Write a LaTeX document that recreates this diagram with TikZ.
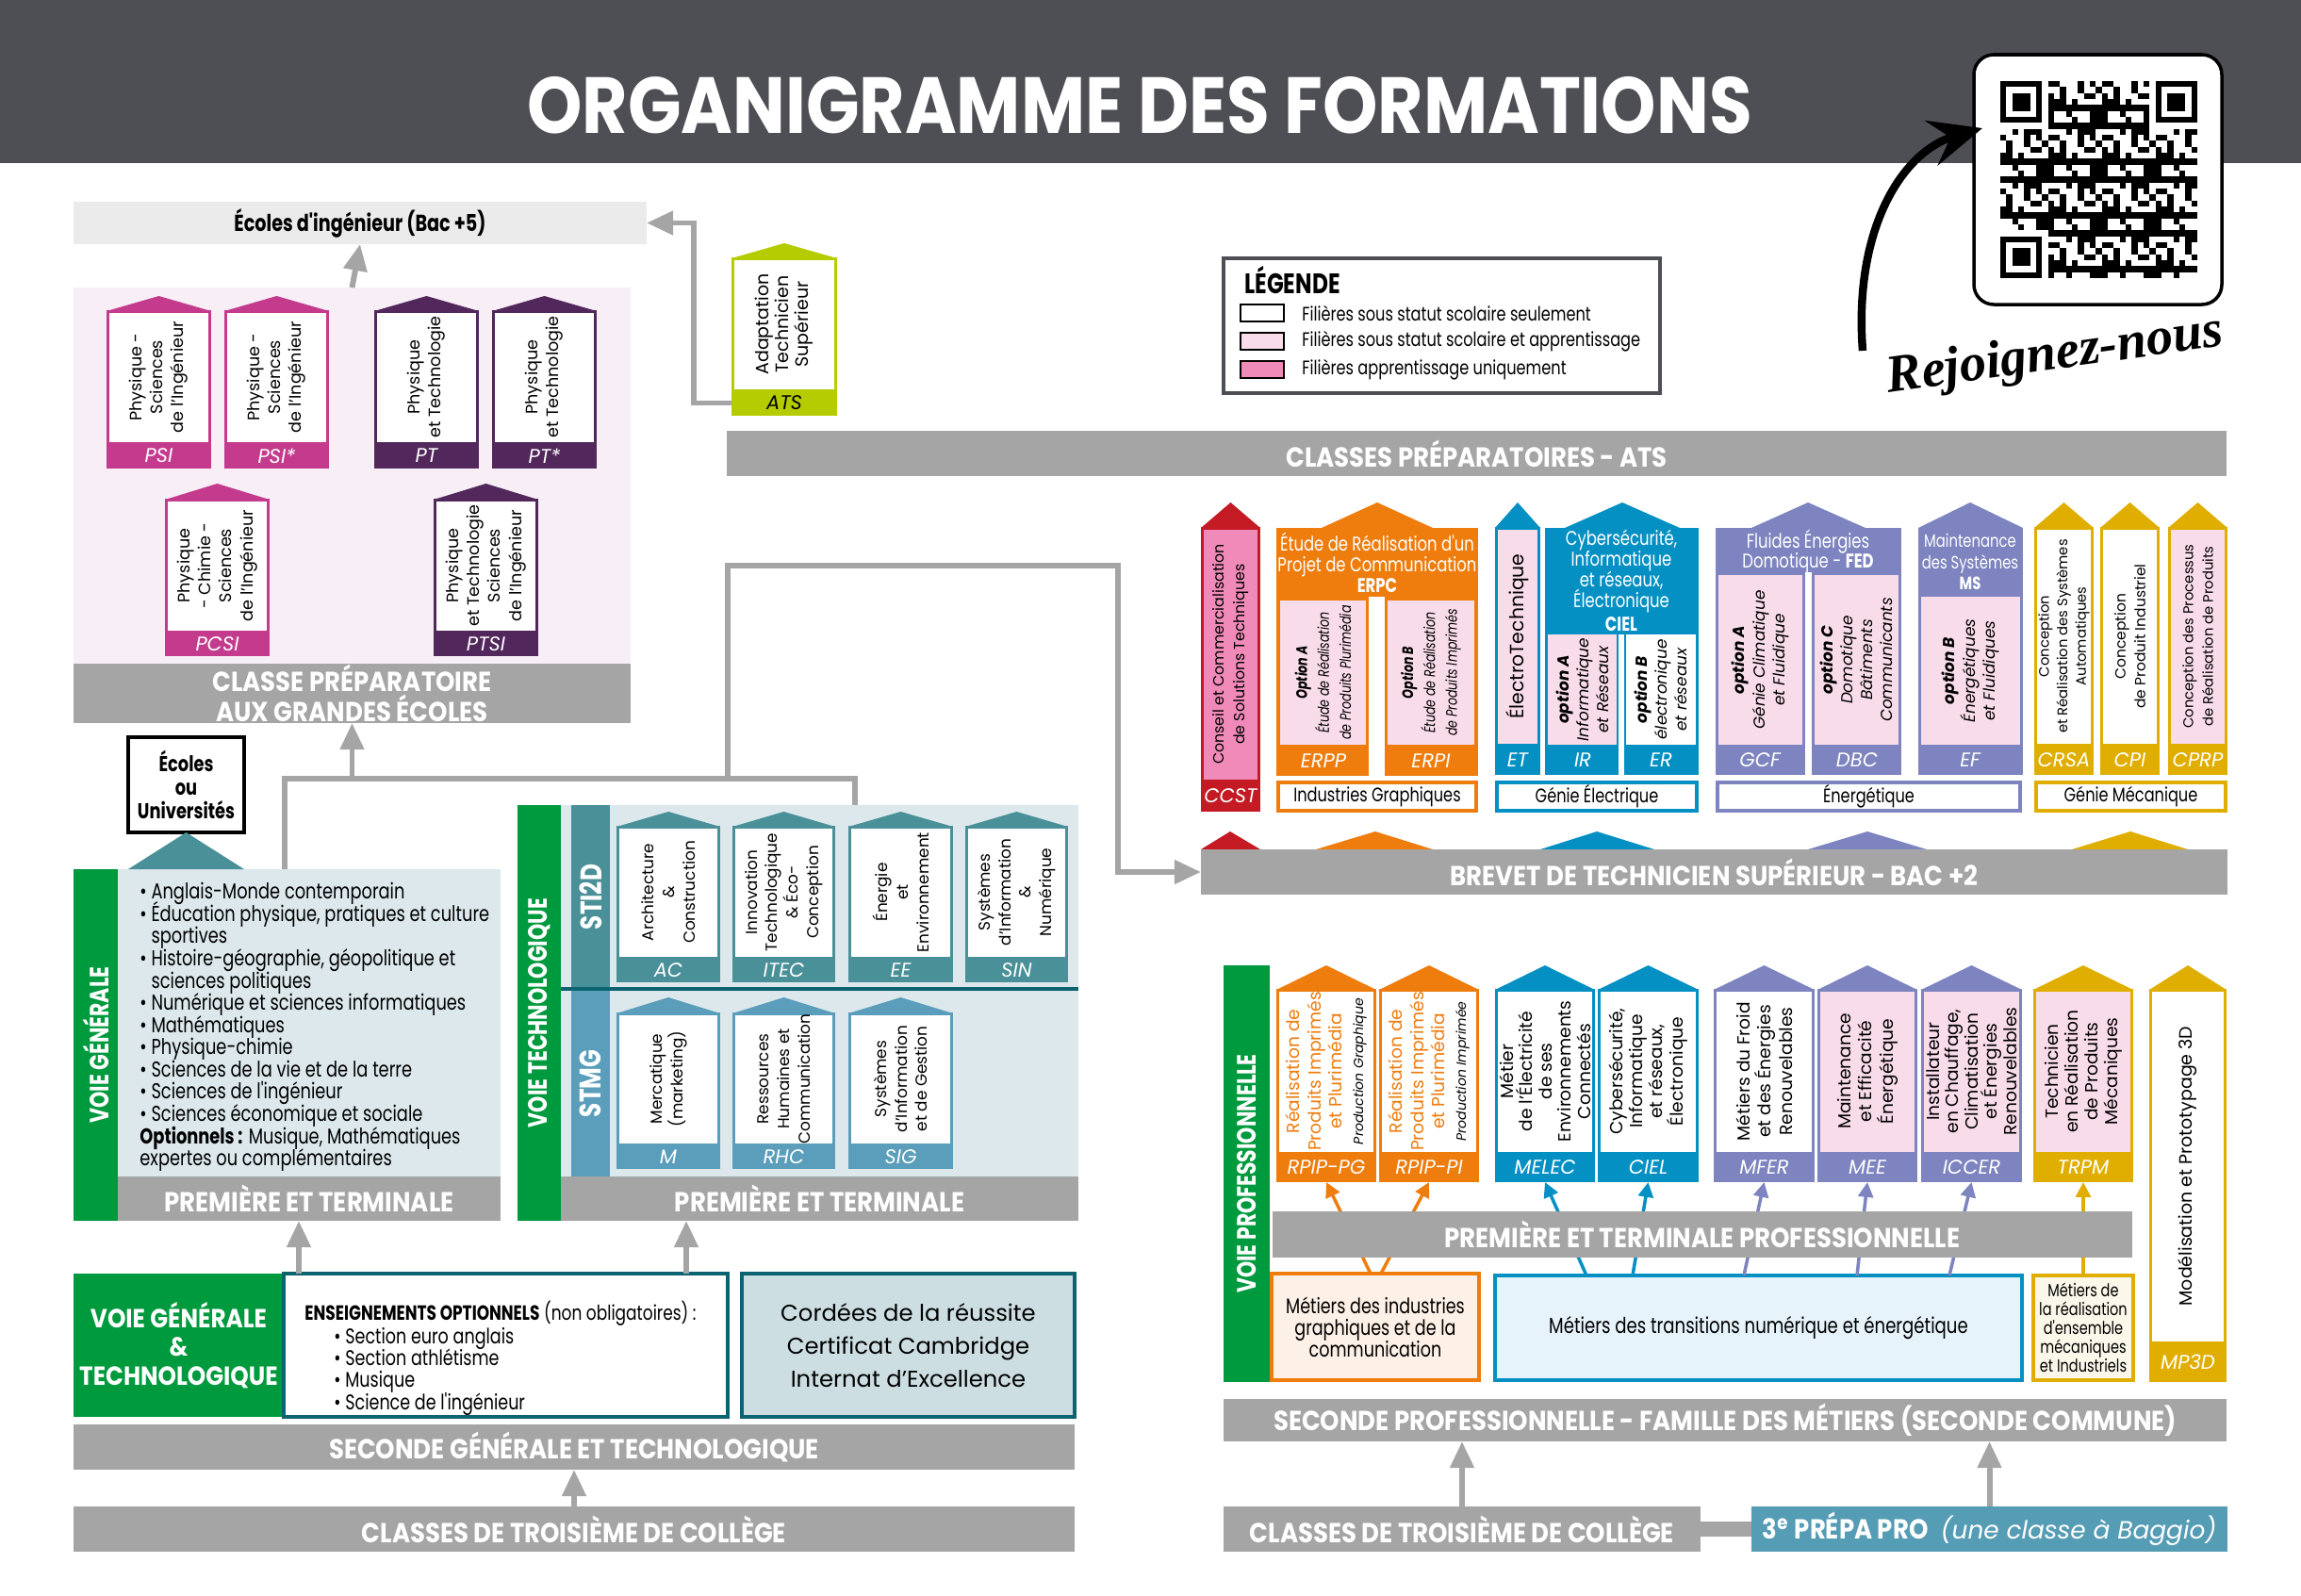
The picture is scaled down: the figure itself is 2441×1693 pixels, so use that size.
\documentclass[tikz,border=0pt]{standalone}
\usepackage{fontspec}
\setmainfont{Poppins}
\newfontfamily\cnd{Poppins}[FakeStretch=0.78]
\newfontfamily\bcnd{Poppins}[FakeStretch=0.89]
\newfontfamily\ttl{Poppins}[FakeStretch=0.88]
\newfontfamily\hand{Liberation Serif}
\usetikzlibrary{arrows.meta,calc,positioning}

\definecolor{hdr}{HTML}{4D4F54}
\definecolor{bargray}{HTML}{A5A5A5}
\definecolor{lightgray}{HTML}{EBEBEB}
\definecolor{cpgebg}{HTML}{F8EEF6}
\definecolor{psic}{HTML}{C43B8E}
\definecolor{ptc}{HTML}{52285C}
\definecolor{atsc}{HTML}{B5CC00}
\definecolor{redc}{HTML}{C41A24}
\definecolor{pinkc}{HTML}{F08AB8}
\definecolor{lpink}{HTML}{F9DCEA}
\definecolor{orc}{HTML}{EE7D0E}
\definecolor{bluec}{HTML}{0590C4}
\definecolor{purc}{HTML}{7D84BF}
\definecolor{yelc}{HTML}{E0AE00}
\definecolor{greenc}{HTML}{009A3E}
\definecolor{tealc}{HTML}{4A9098}
\definecolor{stmgc}{HTML}{5A9EBB}
\definecolor{techbg}{HTML}{DCE8EC}
\definecolor{cordbg}{HTML}{CDDEE3}
\definecolor{darkteal}{HTML}{0B6470}
\definecolor{prepac}{HTML}{559CB5}
\definecolor{lblue}{HTML}{E6F3FB}
\definecolor{peach}{HTML}{FDF0E6}
\definecolor{cream}{HTML}{FBF8EA}

\tikzset{
  zone/.style n args={4}{inner sep=0pt, outer sep=0pt,
    minimum width={((#3)-(#1))*0.01cm}, minimum height={((#4)-(#2))*0.01cm},
    at={({((#1)+(#3))/2},{((#2)+(#4))/2})}},
  barre/.style={fill=bargray, text=white, align=center,
    font=\bcnd\bfseries\fontsize{8.3}{9}\selectfont},
  voie/.style={rotate=90, text=white, font=\cnd\bfseries\fontsize{8}{8}\selectfont},
  lab/.style={rotate=90, align=center, font=\fontsize{5}{6.3}\selectfont},
  opt/.style={rotate=90, align=center, font=\itshape\fontsize{4.8}{6}\selectfont},
  sigle/.style={text=white, font=\itshape\fontsize{6}{7}\selectfont},
  entete/.style={text=white, align=center, font=\cnd\fontsize{6}{6.2}\selectfont},
  famille/.style={fill=white, line width=1.1pt, font=\cnd\fontsize{5.9}{7}\selectfont},
  leg/.style={anchor=west, font=\cnd\fontsize{5.9}{7}\selectfont},
  gline/.style={draw=bargray, line width=1.7pt},
  garrow/.style={gline, -{Triangle[length=8pt,width=7pt]}},
  parrow/.style={line width=1pt, -{Triangle[length=4.5pt,width=4.5pt]}},
}

\newcommand{\filiere}[9]{%
  \fill[#8] (#2,#5) -- ({((#2)+(#3))/2},#4) -- (#3,#5) -- cycle;
  \node[zone={#2+1.5}{#5}{#3-1.5}{#6}, draw=#8, fill=#9, line width=0.85pt] (#1) {};
  \node[zone={#2}{#6}{#3}{#7}, fill=#8] (#1b) {};
}

\begin{document}
\lineskiplimit=-\maxdimen
\begin{tikzpicture}[x=0.01cm, y=-0.01cm]
\useasboundingbox (0,0) rectangle (2441,1693);

\node[zone={0}{0}{2441}{173}, fill=hdr] (bandeau) {};
\node[text=white, font=\ttl\bfseries\fontsize{24}{26}\selectfont] (titre) at (1209,112) {ORGANIGRAMME DES FORMATIONS};

\node[zone={2094}{58}{2357}{323}, draw=black, line width=1pt, fill=white, rounded corners=6pt] (qr) {};
\foreach \i in {0,...,32}{
  \foreach \j in {0,...,32}{
    \pgfmathtruncatemacro\qf{or(or(and(\i<8,\j<8),and(\i>24,\j<8)),and(\i<8,\j>24))}
    \pgfmathtruncatemacro\qon{mod(\i*\i*3+\j*\j*5+\i*\j+2*\i+\j,9)<4}
    \ifnum\qf=0 \ifnum\qon=1
      \fill (2122+\i*6.33,86+\j*6.33) rectangle ++(6.45,6.45);
    \fi\fi
  }
}
\foreach \fx/\fy in {2122/86, 2286.6/86, 2122/250.6}{
  \fill (\fx,\fy) rectangle ++(44.3,44.3);
  \fill[white] (\fx+6.33,\fy+6.33) rectangle ++(31.65,31.65);
  \fill (\fx+12.66,\fy+12.66) rectangle ++(19,19);
}
\coordinate (flstart) at (1976,372);
\coordinate (fltip) at (2103,136);
\draw[line width=2.4pt, -{Stealth[length=16pt,width=14pt,inset=6pt]}] (flstart) .. controls (1966,240) and (2020,160) .. (fltip);
\node[rotate=8, font=\hand\bfseries\itshape\fontsize{16}{20}\selectfont] (rejoin) at (2180,378) {Rejoignez-nous};

\node[zone={1298}{274}{1761}{417}, draw=hdr, line width=0.9pt, fill=white] (legende) {};
\node[anchor=west, font=\cnd\bfseries\fontsize{8.5}{9}\selectfont] (legt) at (1308,297) {LÉGENDE};
\node[zone={1316}{323}{1362}{341}, draw=black, line width=0.4pt, fill=white] (lg1) {};
\node[zone={1316}{353}{1362}{371}, draw=black, line width=0.4pt, fill=lpink] (lg2) {};
\node[zone={1316}{383}{1362}{401}, draw=black, line width=0.4pt, fill=pinkc] (lg3) {};
\node[leg, right=2pt of lg1] (lt1) {Filières sous statut scolaire seulement};
\node[leg, right=2pt of lg2] (lt2) {Filières sous statut scolaire et apprentissage};
\node[leg, right=2pt of lg3] (lt3) {Filières apprentissage uniquement};

\node[zone={78}{214}{686}{259}, fill=lightgray, font=\cnd\bfseries\fontsize{7}{8}\selectfont] (ecoles) {Écoles d'ingénieur (Bac +5)};
\node[zone={78}{305}{669}{704}, fill=cpgebg] (cpgezone) {};
\node[barre, zone={78}{704}{669}{767}] (cpge) {CLASSE PRÉPARATOIRE\\AUX GRANDES ÉCOLES};
\draw[garrow] (cpgezone.north) -- (ecoles.south);

\filiere{psi}{113}{224}{314}{330}{470}{497}{psic}{white}
\node[lab] (psit) at (psi) {Physique -\\Sciences\\de l'Ingénieur};
\node[sigle] (psil) at (psib) {PSI};
\filiere{psis}{238}{349}{314}{330}{470}{497}{psic}{white}
\node[lab] (psist) at (psis) {Physique -\\Sciences\\de l'Ingénieur};
\node[sigle] (psisl) at (psisb) {PSI*};
\filiere{pt}{397}{508}{314}{330}{470}{497}{ptc}{white}
\node[lab] (ptt) at (pt) {Physique\\et Technologie};
\node[sigle] (ptl) at (ptb) {PT};
\filiere{pts}{522}{633}{314}{330}{470}{497}{ptc}{white}
\node[lab] (ptst) at (pts) {Physique\\et Technologie};
\node[sigle] (ptsl) at (ptsb) {PT*};
\filiere{pcsi}{175}{286}{513}{530}{670}{696}{psic}{white}
\node[lab] (pcsit) at (pcsi) {Physique\\- Chimie -\\Sciences\\de l'Ingénieur};
\node[sigle] (pcsil) at (pcsib) {PCSI};
\filiere{ptsi}{460}{571}{513}{530}{670}{696}{ptc}{white}
\node[lab] (ptsit) at (ptsi) {Physique\\et Technologie\\Sciences\\de l'Ingénieur};
\node[sigle] (ptsil) at (ptsib) {PTSI};

\filiere{ats}{776}{888}{258}{274}{414}{441}{atsc}{white}
\node[lab, font=\fontsize{5.4}{6}\selectfont] (atst) at (ats) {Adaptation\\Technicien\\Supérieur};
\node[sigle, text=black] (atsl) at (atsb) {ATS};
\draw[garrow] (atsb.west) -- ++(-40,0) |- (ecoles.east);

\node[barre, zone={771}{457}{2362}{505}] (cpats) {CLASSES PRÉPARATOIRES - ATS};

\filiere{ccst}{1274}{1337}{533}{560}{828}{861}{redc}{pinkc}
\node[lab, font=\fontsize{4.5}{6.2}\selectfont] (ccstt) at (ccst) {Conseil et Commercialisation\\de Solutions Techniques};
\node[sigle] (ccstl) at (ccstb) {CCST};

\fill[orc] (1402,560) -- (1461,533) -- (1520,560) -- cycle;
\node[zone={1354}{560}{1568}{823}, fill=orc] (erpc) {};
\fill[white] (1452,633) rectangle (1469,823);
\node[zone={1358}{637}{1449}{790}, fill=lpink] (erpp) {};
\node[zone={1472}{637}{1564}{790}, fill=lpink] (erpi) {};
\node[entete] (erpct) at (1461,597) {Étude de Réalisation d'un\\Projet de Communication\\\textbf{ERPC}};
\node[opt, font=\cnd\itshape\fontsize{4.6}{6.6}\selectfont] (erppt) at (erpp) {\textbf{Option A}\\Étude de Réalisation\\de Produits Plurimédia};
\node[opt, font=\cnd\itshape\fontsize{4.6}{6.6}\selectfont] (erpit) at (erpi) {\textbf{Option B}\\Étude de Réalisation\\de Produits Imprimés};
\node[sigle] (erppl) at (1404,807) {ERPP};
\node[sigle] (erpil) at (1518,807) {ERPI};
\node[famille, draw=orc, zone={1356}{830}{1566}{860}] (indg) {Industries Graphiques};

\filiere{et}{1586}{1634}{533}{560}{790}{822}{bluec}{lpink}
\node[lab, font=\fontsize{5.8}{6}\selectfont] (ett) at (et) {ÉlectroTechnique};
\node[sigle] (etl) at (etb) {ET};

\fill[bluec] (1660,560) -- (1721,533) -- (1782,560) -- cycle;
\node[zone={1639}{560}{1802}{822}, fill=bluec] (cielg) {};
\fill[white] (1717,673) rectangle (1723,822);
\node[zone={1642}{673}{1715}{790}, fill=lpink] (ir) {};
\node[zone={1725}{673}{1799}{790}, fill=white] (er) {};
\node[entete] (cielt) at (1720,616) {Cybersécurité,\\Informatique\\et réseaux,\\Électronique\\[1pt]\textbf{CIEL}};
\node[opt] (irt) at (ir) {\textbf{option A}\\Informatique\\et Réseaux};
\node[opt] (ert) at (er) {\textbf{option B}\\électronique\\et réseaux};
\node[sigle] (irl) at (1679,806) {IR};
\node[sigle] (erl) at (1762,806) {ER};
\node[famille, draw=bluec, zone={1588}{830}{1800}{860}] (genel) {Génie Électrique};

\fill[purc] (1858,560) -- (1918,533) -- (1979,560) -- cycle;
\node[zone={1820}{560}{2017}{822}, fill=purc] (fed) {};
\fill[white] (1915,607) rectangle (1922,822);
\node[zone={1823}{610}{1912}{790}, fill=lpink] (gcf) {};
\node[zone={1925}{610}{2014}{790}, fill=lpink] (dbc) {};
\node[entete] (fedt) at (1918,585) {Fluides Énergies\\Domotique - \textbf{FED}};
\node[opt] (gcft) at (gcf) {\textbf{option A}\\Génie Climatique\\et Fluidique};
\node[opt] (dbct) at (dbc) {\textbf{option C}\\Domotique\\Bâtiments\\Communicants};
\node[sigle] (gcfl) at (1867,806) {GCF};
\node[sigle] (dbcl) at (1970,806) {DBC};

\fill[purc] (2035,560) -- (2090,533) -- (2146,560) -- cycle;
\node[zone={2035}{560}{2146}{822}, fill=purc] (ms) {};
\node[zone={2038}{633}{2143}{790}, fill=lpink] (ef) {};
\node[entete, font=\cnd\fontsize{5.4}{6.4}\selectfont] (mst) at (2090,596) {Maintenance\\des Systèmes\\\textbf{MS}};
\node[opt] (eft) at (ef) {\textbf{option B}\\Énergétiques\\et Fluidiques};
\node[sigle] (efl) at (2090,806) {EF};
\node[famille, draw=purc, zone={1822}{830}{2143}{860}] (energ) {Énergétique};

\filiere{crsa}{2158}{2221}{533}{560}{790}{822}{yelc}{white}
\node[lab, font=\fontsize{4.2}{5.6}\selectfont] (crsat) at (crsa) {Conception\\et Réalisation des Systèmes\\Automatiques};
\node[sigle] (crsal) at (crsab) {CRSA};
\filiere{cpi}{2228}{2291}{533}{560}{790}{822}{yelc}{white}
\node[lab, font=\fontsize{4.4}{6}\selectfont] (cpit) at (cpi) {Conception\\de Produit Industriel};
\node[sigle] (cpil) at (cpib) {CPI};
\filiere{cprp}{2300}{2363}{533}{560}{790}{822}{yelc}{lpink}
\node[lab, font=\fontsize{4.2}{6}\selectfont] (cprpt) at (cprp) {Conception des Processus\\de Réalisation de Produits};
\node[sigle] (cprpl) at (cprpb) {CPRP};
\node[famille, draw=yelc, zone={2160}{830}{2361}{860}] (genmec) {Génie Mécanique};

\fill[redc] (1274,901) -- (1305,882) -- (1337,901) -- cycle;
\fill[orc] (1396,901) -- (1459,882) -- (1520,901) -- cycle;
\fill[bluec] (1634,901) -- (1694,882) -- (1755,901) -- cycle;
\fill[purc] (1918,901) -- (1981,882) -- (2044,901) -- cycle;
\fill[yelc] (2198,901) -- (2260,882) -- (2321,901) -- cycle;
\node[barre, zone={1274}{901}{2363}{949}] (bts) {BREVET DE TECHNICIEN SUPÉRIEUR - BAC +2};

\node[zone={136}{782}{259}{883}, draw=black, line width=0.9pt, fill=white, align=center, font=\cnd\bfseries\fontsize{6.5}{7}\selectfont] (univ) {Écoles\\ou\\Universités};
\node[zone={78}{922}{125}{1295}, fill=greenc] (vg) {};
\node[voie] (vgl) at (vg) {VOIE GÉNÉRALE};
\node[zone={125}{922}{531}{1248}, fill=techbg] (vgzone) {};
\fill[tealc] (univ.south west |- vgzone.north) -- (univ.south) -- (univ.south east |- vgzone.north) -- cycle;
\node[anchor=north west, align=left, font=\cnd\fontsize{6.5}{6.7}\selectfont] (listeg) at (136,924) {\textbullet~Anglais-Monde contemporain\\
\textbullet~Éducation physique, pratiques et culture\\
\phantom{\textbullet~}sportives\\
\textbullet~Histoire-géographie, géopolitique et\\
\phantom{\textbullet~}sciences politiques\\
\textbullet~Numérique et sciences informatiques\\
\textbullet~Mathématiques\\
\textbullet~Physique-chimie\\
\textbullet~Sciences de la vie et de la terre\\
\textbullet~Sciences de l'ingénieur\\
\textbullet~Sciences économique et sociale\\
\textbf{Optionnels :} Musique, Mathématiques\\
expertes ou complémentaires};
\node[barre, zone={125}{1248}{531}{1295}] (premg) {PREMIÈRE ET TERMINALE};

\node[zone={549}{854}{595}{1295}, fill=greenc] (vt) {};
\node[voie] (vtl) at (vt) {VOIE TECHNOLOGIQUE};
\node[zone={595}{854}{1144}{1248}, fill=techbg] (vtzone) {};
\node[zone={606}{854}{647}{1049}, fill=tealc] (sti) {};
\node[zone={606}{1051}{647}{1248}, fill=stmgc] (stmg) {};
\node[voie, font=\cnd\bfseries\fontsize{9}{9}\selectfont] (stil) at (sti) {STI2D};
\node[voie, font=\cnd\bfseries\fontsize{9}{9}\selectfont] (stmgl) at (stmg) {STMG};
\draw[darkteal, line width=1pt] (vt.east |- sti.south) -- (vtzone.east |- sti.south);
\node[barre, zone={595}{1248}{1144}{1295}] (premt) {PREMIÈRE ET TERMINALE};

\filiere{ac}{654}{764}{861}{877}{1016}{1042}{tealc}{white}
\node[lab, font=\fontsize{4.8}{6.2}\selectfont] (act) at (ac) {Architecture\\\&\\Construction};
\node[sigle] (acl) at (acb) {AC};
\filiere{itec}{777}{886}{861}{877}{1016}{1042}{tealc}{white}
\node[lab, font=\fontsize{4.8}{6.2}\selectfont] (itect) at (itec) {Innovation\\Technologique\\\& Éco-\\Conception};
\node[sigle] (itecl) at (itecb) {ITEC};
\filiere{ee}{900}{1011}{861}{877}{1016}{1042}{tealc}{white}
\node[lab, font=\fontsize{4.8}{6.2}\selectfont] (eet) at (ee) {Énergie\\et\\Environnement};
\node[sigle] (eel) at (eeb) {EE};
\filiere{sin}{1024}{1133}{861}{877}{1016}{1042}{tealc}{white}
\node[lab, font=\fontsize{4.8}{6.2}\selectfont] (sint) at (sin) {Systèmes\\d'Information\\\&\\Numérique};
\node[sigle] (sinl) at (sinb) {SIN};
\filiere{merc}{654}{764}{1058}{1075}{1214}{1240}{stmgc}{white}
\node[lab, font=\fontsize{4.8}{6.2}\selectfont] (merct) at (merc) {Mercatique\\(marketing)};
\node[sigle] (mercl) at (mercb) {M};
\filiere{rhc}{777}{886}{1058}{1075}{1214}{1240}{stmgc}{white}
\node[lab, font=\fontsize{4.8}{6.2}\selectfont] (rhct) at (rhc) {Ressources\\Humaines et\\Communication};
\node[sigle] (rhcl) at (rhcb) {RHC};
\filiere{sig}{900}{1011}{1058}{1075}{1214}{1240}{stmgc}{white}
\node[lab, font=\fontsize{4.8}{6.2}\selectfont] (sigt) at (sig) {Systèmes\\d'Information\\et de Gestion};
\node[sigle] (sigl) at (sigb) {SIG};

\coordinate (jg) at (302,826);
\coordinate (jt) at (907,826);
\coordinate (jb) at (772,826);
\coordinate (cb1) at (772,600);
\coordinate (cb2) at (1186,600);
\draw[gline] (jg |- vgzone.north) -- (jg) -- (jt) -- (jt |- vtzone.north);
\draw[garrow] (cpge.south |- jg) -- (cpge.south);
\draw[garrow] (jb) -- (cb1) -- (cb2) |- (bts.west);

\node[zone={78}{1351}{301}{1503}, fill=greenc, text=white, align=center, font=\bcnd\bfseries\fontsize{7.9}{8.6}\selectfont] (vgt) {VOIE GÉNÉRALE\\\&\\TECHNOLOGIQUE};
\node[zone={301}{1351}{772}{1503}, draw=darkteal, line width=1pt, fill=white] (ens) {};
\node[anchor=north west, font=\cnd\fontsize{6.2}{6.6}\selectfont] (enst) at (311,1368) {\textbf{ENSEIGNEMENTS OPTIONNELS} (non obligatoires) :};
\node[anchor=north west, align=left, font=\cnd\fontsize{6.4}{6.6}\selectfont] (ensl) at (342,1396) {\textbullet~Section euro anglais\\\textbullet~Section athlétisme\\\textbullet~Musique\\\textbullet~Science de l'ingénieur};
\node[zone={787}{1351}{1140}{1503}, fill=cordbg, draw=darkteal, line width=1pt, align=center, font=\fontsize{6.9}{10}\selectfont] (cordees) {Cordées de la réussite\\Certificat Cambridge\\Internat d'Excellence};
\coordinate (xg) at (317,0);
\coordinate (xt) at (728,0);
\draw[garrow] (ens.north -| xg) -- (premg.south -| xg);
\draw[garrow] (ens.north -| xt) -- (premt.south -| xt);
\node[barre, zone={78}{1511}{1140}{1559}] (secgt) {SECONDE GÉNÉRALE ET TECHNOLOGIQUE};
\node[barre, zone={78}{1598}{1140}{1646}] (troisg) {CLASSES DE TROISIÈME DE COLLÈGE};
\draw[garrow] (troisg.north) -- (secgt.south);

\node[zone={1298}{1024}{1347}{1466}, fill=greenc] (vp) {};
\node[voie] (vpl) at (vp) {VOIE PROFESSIONNELLE};

\filiere{rpg}{1354}{1460}{1024}{1050}{1223}{1254}{orc}{white}
\node[lab, text=orc, font=\fontsize{5.3}{6.4}\selectfont] (rpgt) at (rpg) {Réalisation de\\Produits Imprimés\\et Plurimédia\\\textcolor{black}{\itshape\fontsize{4}{5}\selectfont Production Graphique}};
\node[sigle] (rpgl) at (rpgb) {RPIP-PG};
\filiere{rpi}{1463}{1569}{1024}{1050}{1223}{1254}{orc}{white}
\node[lab, text=orc, font=\fontsize{5.3}{6.4}\selectfont] (rpit) at (rpi) {Réalisation de\\Produits Imprimés\\et Plurimédia\\\textcolor{black}{\itshape\fontsize{4}{5}\selectfont Production Imprimée}};
\node[sigle] (rpil) at (rpib) {RPIP-PI};
\filiere{melec}{1586}{1692}{1024}{1050}{1223}{1254}{bluec}{white}
\node[lab, font=\fontsize{5.3}{5.8}\selectfont] (melect) at (melec) {Métier\\de l'Électricité\\de ses\\Environnements\\Connectés};
\node[sigle] (melecl) at (melecb) {MELEC};
\filiere{cielp}{1695}{1802}{1024}{1050}{1223}{1254}{bluec}{white}
\node[lab, font=\fontsize{5.3}{6}\selectfont] (cielpt) at (cielp) {Cybersécurité,\\Informatique\\et réseaux,\\Électronique};
\node[sigle] (cielpl) at (cielpb) {CIEL};
\filiere{mfer}{1818}{1925}{1024}{1050}{1223}{1254}{purc}{white}
\node[lab, font=\fontsize{5.3}{6.4}\selectfont] (mfert) at (mfer) {Métiers du Froid\\et des Énergies\\Renouvelables};
\node[sigle] (mferl) at (mferb) {MFER};
\filiere{mee}{1928}{2034}{1024}{1050}{1223}{1254}{purc}{lpink}
\node[lab, font=\fontsize{5.3}{6.4}\selectfont] (meet) at (mee) {Maintenance\\et Efficacité\\Énergétique};
\node[sigle] (meel) at (meeb) {MEE};
\filiere{iccer}{2038}{2145}{1024}{1050}{1223}{1254}{purc}{lpink}
\node[lab, font=\fontsize{5.3}{5.8}\selectfont] (iccert) at (iccer) {Installateur\\en Chauffage,\\Climatisation\\et Énergies\\Renouvelables};
\node[sigle] (iccerl) at (iccerb) {ICCER};
\filiere{trpm}{2157}{2263}{1024}{1050}{1223}{1254}{yelc}{lpink}
\node[lab, font=\fontsize{5.3}{6}\selectfont] (trpmt) at (trpm) {Technicien\\en Réalisation\\de Produits\\Mécaniques};
\node[sigle] (trpml) at (trpmb) {TRPM};
\filiere{mp3d}{2280}{2362}{1024}{1050}{1424}{1466}{yelc}{white}
\node[lab, font=\fontsize{5.4}{6}\selectfont] (mp3dt) at (mp3d) {Modélisation et Prototypage 3D};
\node[sigle] (mp3dl) at (mp3db) {MP3D};

\node[zone={1349}{1351}{1569}{1464}, draw=orc, fill=peach, line width=1.1pt, align=center, font=\cnd\fontsize{6.4}{6.6}\selectfont] (migc) {Métiers des industries\\graphiques et de la\\communication};
\node[zone={1586}{1353}{2145}{1464}, draw=bluec, fill=lblue, line width=1.1pt, font=\cnd\fontsize{6.6}{7}\selectfont] (mtne) {Métiers des transitions numérique et énergétique};
\node[zone={2157}{1353}{2263}{1464}, draw=yelc, fill=cream, line width=1.1pt, align=center, font=\cnd\fontsize{5.3}{5.7}\selectfont] (mrem) {Métiers de\\la réalisation\\d'ensemble\\mécaniques\\et Industriels};

\draw[parrow, orc] ([xshift=-0.05cm]migc.north) -- (rpgb.south);
\draw[parrow, orc] ([xshift=0.06cm]migc.north) -- (rpib.south);
\draw[parrow, bluec] ($(mtne.north west)+(97,0)$) -- (melecb.south);
\draw[parrow, bluec] ($(mtne.north west)+(146,0)$) -- (cielpb.south);
\draw[parrow, purc] ($(mtne.north west)+(264,0)$) -- (mferb.south);
\draw[parrow, purc] ($(mtne.north west)+(384,0)$) -- (meeb.south);
\draw[parrow, purc] ($(mtne.north west)+(482,0)$) -- (iccerb.south);
\draw[parrow, yelc] (mrem.north) -- (trpmb.south);
\node[barre, zone={1350}{1285}{2262}{1334}] (prempro) {PREMIÈRE ET TERMINALE PROFESSIONNELLE};

\node[barre, zone={1298}{1484}{2362}{1529}] (secpro) {SECONDE PROFESSIONNELLE - FAMILLE DES MÉTIERS (SECONDE COMMUNE)};
\node[barre, zone={1298}{1598}{1804}{1646}] (troisp) {CLASSES DE TROISIÈME DE COLLÈGE};
\node[zone={1858}{1598}{2363}{1646}, fill=prepac, text=white, font=\fontsize{7.5}{9}\selectfont] (prepa) {{\bcnd\bfseries\fontsize{8.3}{9}\selectfont 3\textsuperscript{e} PRÉPA PRO}\enspace\textit{(une classe à Baggio)}};
\draw[bargray, line width=4.3pt] (troisp.east) -- (prepa.west);
\draw[garrow] (troisp.north) -- (secpro.south -| troisp.north);
\draw[garrow] (prepa.north) -- (secpro.south -| prepa.north);
\end{tikzpicture}
\end{document}
